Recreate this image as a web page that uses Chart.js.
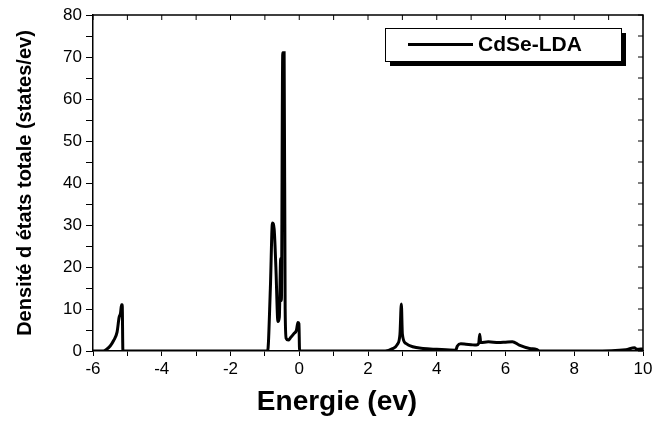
<!DOCTYPE html>
<html>
<head>
<meta charset="utf-8">
<script src="https://cdn.jsdelivr.net/npm/chart.js@4.4.1/dist/chart.umd.min.js"></script>
<style>
  html, body { margin: 0; padding: 0; background: #fff; }
  #wrap { width: 667px; height: 421px; }
</style>
</head>
<body>
<div id="wrap"><canvas id="dosChart" width="667" height="421"></canvas></div>
<script>
// Energy (eV) and total DOS (states/eV)
const energy = [-6, -5.7, -5.62, -5.5, -5.4, -5.3, -5.24, -5.2, -5.17, -5.15, -5.13,
    -0.92, -0.84, -0.78, -0.73, -0.68, -0.62, -0.58, -0.54, -0.52, -0.48, -0.44, -0.41,
    -0.38, -0.32, -0.25, -0.15, -0.08, -0.04, -0.01, 0.01,
    2.5, 2.7, 2.85, 2.93, 2.97, 3.0, 3.1, 3.3, 3.6, 4.0, 4.55,
    4.6, 4.7, 4.85, 5.0, 5.15, 5.22, 5.25, 5.28, 5.5, 5.8, 6.0, 6.2,
    6.4, 6.7, 6.9, 7.0, 8.5, 9.5, 9.75, 9.82, 10];
const dos = [0, 0, 0.3, 1.2, 2.5, 4.5, 8, 9, 11, 11, 0,
    0, 15, 30.5, 29, 20, 7, 8, 22, 12, 71, 71, 10,
    3, 2.6, 3.2, 4.2, 5, 6.8, 6.5, 0,
    0, 0.5, 1.5, 4, 11.2, 4, 1.8, 1.0, 0.6, 0.4, 0.2,
    1.2, 1.7, 1.6, 1.5, 1.4, 1.8, 4, 2, 2.2, 2.0, 2.1, 2.2,
    1.4, 0.6, 0.4, 0, 0, 0.3, 0.8, 0.4, 0.5];
const xTicks = [-6, -4, -2, 0, 2, 4, 6, 8, 10];
const yTicks = [0, 10, 20, 30, 40, 50, 60, 70, 80];
const seriesName = 'CdSe-LDA';
const xTitle = 'Energie (ev)';

const points = energy.map((e, i) => ({ x: e, y: dos[i] }));
const fontFamily = '"Liberation Sans", Arial, sans-serif';

// top/right frame with inward ticks, x title and the shadowed legend box
const framePlugin = {
    id: 'frame',
    afterDraw(chart) {
        const { ctx, chartArea: a, scales } = chart;
        ctx.save();
        ctx.strokeStyle = '#000';
        ctx.lineWidth = 1.5;
        ctx.beginPath();
        ctx.moveTo(a.left, a.top);
        ctx.lineTo(a.right, a.top);
        ctx.lineTo(a.right, a.bottom);
        ctx.stroke();
        ctx.lineWidth = 1;
        ctx.beginPath();
        for (let v = -6; v <= 10; v += 1) {
            const px = scales.x.getPixelForValue(v);
            ctx.moveTo(px, a.top);
            ctx.lineTo(px, a.top + 5);
        }
        for (let v = 0; v <= 80; v += 5) {
            const py = scales.y.getPixelForValue(v);
            ctx.moveTo(a.right, py);
            ctx.lineTo(a.right - 5, py);
        }
        ctx.stroke();

        // x axis title (sits a bit left of the axis centre in the original)
        ctx.fillStyle = '#000';
        ctx.font = 'bold 28px ' + fontFamily;
        ctx.textAlign = 'center';
        ctx.textBaseline = 'middle';
        ctx.fillText(xTitle, 337, 402);

        // legend
        const bx = 385, by = 28, bw = 236, bh = 33;
        ctx.fillStyle = '#000';
        ctx.fillRect(bx + 5, by + 5, bw, bh);
        ctx.fillStyle = '#fff';
        ctx.fillRect(bx, by, bw, bh);
        ctx.lineWidth = 1;
        ctx.strokeRect(bx + 0.5, by + 0.5, bw, bh);
        ctx.lineWidth = 3;
        ctx.beginPath();
        ctx.moveTo(408, by + bh / 2);
        ctx.lineTo(473, by + bh / 2);
        ctx.stroke();
        ctx.fillStyle = '#000';
        ctx.font = 'bold 21px ' + fontFamily;
        ctx.textAlign = 'left';
        ctx.fillText(seriesName, 478, by + bh / 2 + 1);
        ctx.restore();
    }
};

new Chart(document.getElementById('dosChart'), {
    type: 'line',
    data: {
        datasets: [{
            label: seriesName,
            data: points,
            borderColor: '#000',
            borderWidth: 3,
            pointRadius: 0,
            fill: false,
            cubicInterpolationMode: 'monotone'
        }]
    },
    options: {
        responsive: false,
        animation: false,
        layout: { padding: { top: 15, right: 24, left: 0, bottom: 0 } },
        plugins: { legend: { display: false }, tooltip: { enabled: false } },
        scales: {
            x: {
                type: 'linear',
                min: -6, max: 10,
                afterFit(s) { s.height = 70; },
                grid: { drawOnChartArea: false, color: '#000', tickLength: 5, tickWidth: 1 },
                border: { color: '#000', width: 1.5 },
                ticks: {
                    stepSize: 1,
                    autoSkip: false,
                    maxRotation: 0,
                    padding: 3,
                    color: '#000',
                    font: { family: fontFamily, size: 17 },
                    callback: v => xTicks.includes(v) ? String(v) : ''
                }
            },
            y: {
                min: 0, max: 80,
                afterFit(s) { s.width = 93; },
                grid: { drawOnChartArea: false, color: '#000', tickLength: 7, tickWidth: 1 },
                border: { color: '#000', width: 1.5 },
                ticks: {
                    stepSize: 5,
                    autoSkip: false,
                    padding: 4,
                    color: '#000',
                    font: { family: fontFamily, size: 17 },
                    callback: v => yTicks.includes(v) ? String(v) : ''
                },
                title: {
                    display: true,
                    text: 'Densité d états totale (states/ev)',
                    color: '#000',
                    font: { family: fontFamily, size: 20, weight: 'bold' },
                    padding: { top: 13, bottom: 0 }
                }
            }
        }
    },
    plugins: [framePlugin]
});
</script>
</body>
</html>
